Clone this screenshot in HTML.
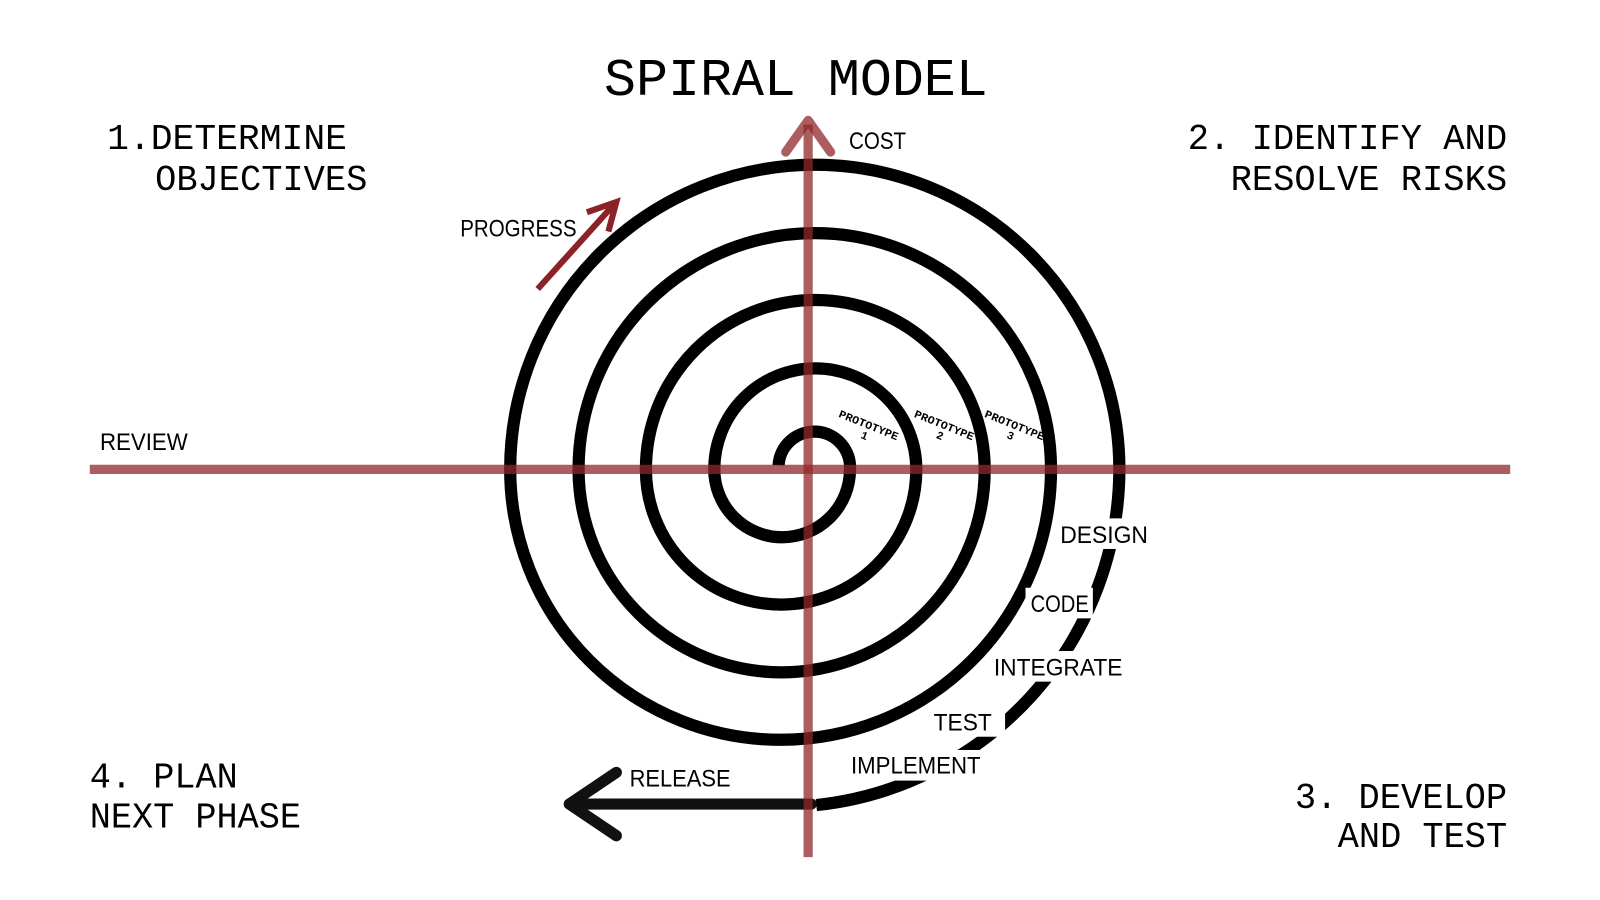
<!DOCTYPE html>
<html><head><meta charset="utf-8"><style>
html,body{margin:0;padding:0;background:#fff;}
svg{display:block}
text{font-family:"Liberation Mono",monospace;fill:#000}
.s{font-family:"Liberation Sans Narrow","Liberation Sans",sans-serif;font-size:24px}
</style></head><body>
<svg width="1600" height="900" viewBox="0 0 1600 900" xmlns="http://www.w3.org/2000/svg">
<rect width="1600" height="900" fill="#fff"/>
<g transform="scale(1.0204)">
<text x="780" y="93" font-size="52" text-anchor="middle" textLength="376" lengthAdjust="spacingAndGlyphs">SPIRAL MODEL</text>
<text x="105" y="146" font-size="35" textLength="235" lengthAdjust="spacingAndGlyphs">1.DETERMINE</text>
<text x="152" y="186" font-size="35" textLength="208" lengthAdjust="spacingAndGlyphs">OBJECTIVES</text>
<text x="1164" y="146" font-size="35" textLength="313" lengthAdjust="spacingAndGlyphs">2. IDENTIFY AND</text>
<text x="1206" y="186" font-size="35" textLength="271" lengthAdjust="spacingAndGlyphs">RESOLVE RISKS</text>
<text x="88" y="772" font-size="35" textLength="145" lengthAdjust="spacingAndGlyphs">4. PLAN</text>
<text x="88" y="811" font-size="35" textLength="207" lengthAdjust="spacingAndGlyphs">NEXT PHASE</text>
<text x="1269" y="792" font-size="35" textLength="208" lengthAdjust="spacingAndGlyphs">3. DEVELOP</text>
<text x="1311" y="830" font-size="35" textLength="166" lengthAdjust="spacingAndGlyphs">AND TEST</text>

<g fill="none" stroke="#000" stroke-width="12">
<path d="M763 456 A35 35 0 0 1 833 460 A66.5 66.5 0 0 1 700 460 A99 99 0 0 1 898 460 A132.5 132.5 0 0 1 633 460 A166 166 0 0 1 965 460 A199 199 0 0 1 567 460 A231.5 231.5 0 0 1 1030 460 A265 265 0 0 1 500 460 A298.5 298.5 0 0 1 1097 460 A332 332 0 0 1 800 789"/>
</g>
<g fill="#fff">
<rect x="1036" y="508" width="92" height="30"/>
<rect x="1005" y="576" width="66" height="30"/>
<rect x="970" y="638" width="134" height="30"/>
<rect x="911" y="692" width="74" height="30"/>
<rect x="830" y="735" width="135" height="30"/>
</g>
<text class="s" x="1039" y="532" textLength="86" lengthAdjust="spacingAndGlyphs">DESIGN</text>
<text class="s" x="1010" y="600" textLength="57" lengthAdjust="spacingAndGlyphs">CODE</text>
<text class="s" x="974" y="662" textLength="126" lengthAdjust="spacingAndGlyphs">INTEGRATE</text>
<text class="s" x="915" y="716" textLength="57" lengthAdjust="spacingAndGlyphs">TEST</text>
<text class="s" x="834" y="758" textLength="127" lengthAdjust="spacingAndGlyphs">IMPLEMENT</text>
<text class="s" x="617" y="771" textLength="99" lengthAdjust="spacingAndGlyphs">RELEASE</text>
<text class="s" x="832" y="146" textLength="56" lengthAdjust="spacingAndGlyphs">COST</text>
<text class="s" x="451" y="232" textLength="114" lengthAdjust="spacingAndGlyphs">PROGRESS</text>
<text class="s" x="98" y="441" textLength="86" lengthAdjust="spacingAndGlyphs">REVIEW</text>

<g font-family="Liberation Serif,serif" font-size="11" font-weight="bold" text-anchor="middle">
<g transform="translate(850,420) rotate(22)"><text x="0" y="0" textLength="62" lengthAdjust="spacingAndGlyphs">PROTOTYPE</text><text x="0" y="11">1</text></g>
<g transform="translate(924,420) rotate(22)"><text x="0" y="0" textLength="62" lengthAdjust="spacingAndGlyphs">PROTOTYPE</text><text x="0" y="11">2</text></g>
<g transform="translate(993,420) rotate(22)"><text x="0" y="0" textLength="62" lengthAdjust="spacingAndGlyphs">PROTOTYPE</text><text x="0" y="11">3</text></g>
</g>

<g stroke="#111" stroke-width="11" stroke-linecap="round" stroke-linejoin="round" fill="none">
<line x1="795" y1="788" x2="558" y2="788"/>
<polyline points="604,757 558,788 604,819"/>
</g>
<g stroke="rgb(143,39,43)" stroke-opacity="0.75" stroke-width="9" fill="none">
<line x1="88" y1="460" x2="1480" y2="460"/>
<line x1="792" y1="840" x2="792" y2="122"/>
<polyline points="770,149 792,118 814,149" stroke-linecap="round" stroke-linejoin="round"/>
</g>
<g stroke="#8b2228" stroke-width="6" fill="none" stroke-linecap="square" stroke-linejoin="miter">
<line x1="529" y1="281" x2="602" y2="200"/>
<polyline points="578,207 604,198 597,224"/>
</g>
</g>
</svg>
</body></html>
